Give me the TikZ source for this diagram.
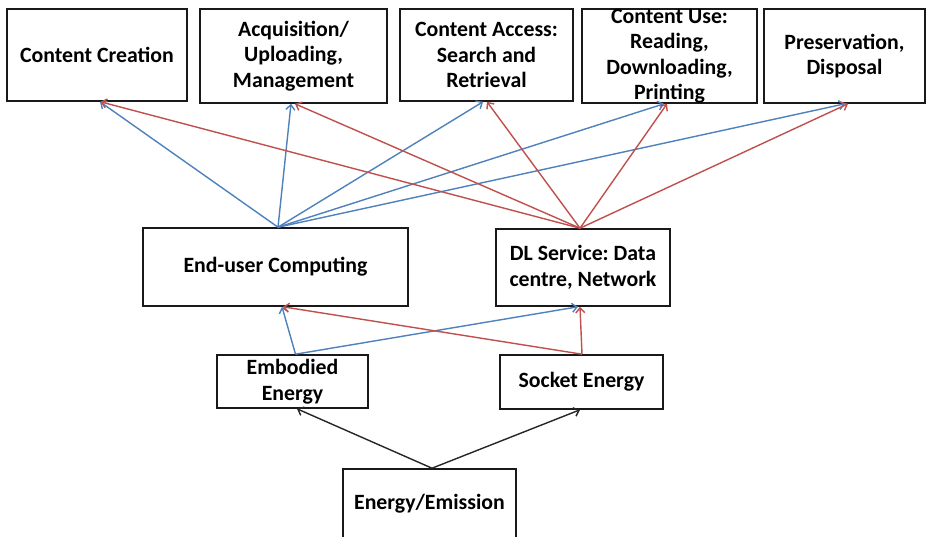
\documentclass[tikz,border=0pt]{standalone}
\usepackage{fontspec}
\setmainfont{Carlito}
\usetikzlibrary{arrows.meta}
\definecolor{eblue}{HTML}{4F81BD}
\definecolor{ered}{HTML}{C0504D}
\frenchspacing
\tikzset{
  box/.style={draw=black!90, line width=1.6pt, inner sep=0pt},
  txt/.style={align=center, font=\bfseries\fontsize{21.8}{25.5}\selectfont, text=black, inner sep=0pt},
  conn/.style={line width=1.4pt, -{Straight Barb[length=5pt,width=9pt]}},
  bl/.style={conn, draw=eblue},
  rd/.style={conn, draw=ered},
  bk/.style={conn, draw=black!85},
}
\begin{document}
\begin{tikzpicture}[x=1pt,y=-1pt]
\useasboundingbox[fill=white] (0,0) rectangle (928,537);
% top row
\node[box, minimum width=180, minimum height=92, label={[txt]center:Content Creation}] (cc) at (97,55) {};
\node[box, minimum width=187, minimum height=94, label={[txt]center:Acquisition/\\Uploading,\\Management}] (acq) at (293.5,56) {};
\node[box, minimum width=173, minimum height=92, label={[txt]center:Content Access:\\Search and\\Retrieval}] (ca) at (486.5,55) {};
\node[box, minimum width=175, minimum height=94, label={[txt]center:Content Use:\\Reading,\\Downloading,\\Printing}] (cu) at (669.5,56) {};
\node[box, minimum width=161, minimum height=94, label={[txt]center:Preservation,\\Disposal}] (pres) at (844.5,56) {};
% middle row
\node[box, minimum width=265, minimum height=78, label={[txt]center:End-user Computing}] (euc) at (275.5,267) {};
\node[box, minimum width=174, minimum height=77, label={[txt]center:DL Service: Data\\centre, Network}] (dl) at (583,267.5) {};
% energy row
\node[box, minimum width=151, minimum height=53, label={[txt]center:Embodied\\Energy}] (emb) at (292.5,381.5) {};
\node[box, minimum width=163, minimum height=54, label={[txt]center:Socket Energy}] (sock) at (581.5,382) {};
\node[box, minimum width=173, minimum height=70, label={[txt]center:Energy/Emission}] (ee) at (429.5,504) {};
% end-user computing to top row (blue)
\coordinate (eucTop) at ([xshift=2.5pt]euc.north);
\coordinate (dlTop) at ([xshift=-3pt]dl.north);
\draw[bl] (eucTop) -- ([xshift=3pt]cc.south);
\draw[bl] (eucTop) -- ([xshift=-2.5pt]acq.south);
\draw[bl] (eucTop) -- ([xshift=-3.5pt]ca.south);
\draw[bl] (eucTop) -- ([xshift=-5.5pt]cu.south);
\draw[bl] (eucTop) -- ([xshift=0.5pt]pres.south);
% DL service to top row (red)
\draw[rd] (dlTop) -- ([xshift=3.5pt]cc.south);
\draw[rd] (dlTop) -- ([xshift=1.5pt]acq.south);
\draw[rd] (dlTop) -- ([xshift=0.5pt]ca.south);
\draw[rd] (dlTop) -- ([xshift=-2.5pt]cu.south);
\draw[rd] (dlTop) -- ([xshift=3.5pt]pres.south);
% energy to computing
\coordinate (embTop) at ([xshift=3pt]emb.north);
\coordinate (sockTop) at ([xshift=0.5pt]sock.north);
\draw[bl] (embTop) -- ([xshift=6.5pt]euc.south);
\draw[bl] (embTop) -- ([xshift=-5pt]dl.south);
\draw[rd] (sockTop) -- ([xshift=7.5pt]euc.south);
\draw[rd] (sockTop) -- ([xshift=-3pt]dl.south);
% emission to energy
\coordinate (eeTop) at ([xshift=2.5pt]ee.north);
\draw[bk] (eeTop) -- ([xshift=4.5pt]emb.south);
\draw[bk] (eeTop) -- ([xshift=-1.5pt]sock.south);
\end{tikzpicture}
\end{document}
